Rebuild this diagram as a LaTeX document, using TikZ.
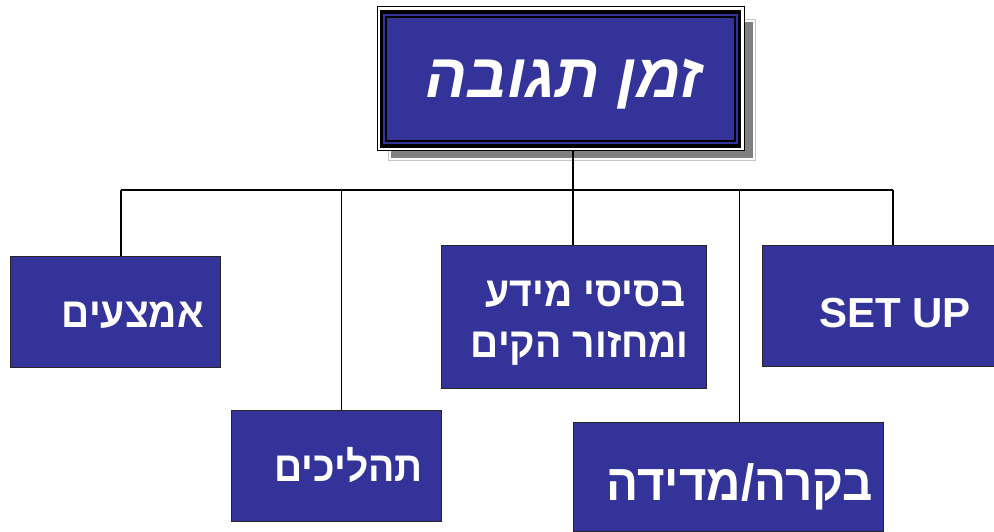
\documentclass[tikz,border=0pt]{standalone}
\usepackage{fontspec}
\setmainfont{Liberation Sans}
\newfontfamily\heb[Script=Hebrew]{Liberation Sans}
\newfontfamily\hebnarrow[Script=Hebrew,FakeStretch=0.93]{Liberation Sans}
\TeXXeTstate=1
\definecolor{boxblue}{HTML}{333399}
\definecolor{shadowgray}{HTML}{808080}

\begin{document}
\begin{tikzpicture}[x=1pt,y=-1pt,
  box/.style={draw=black!85, line width=1pt, fill=boxblue, inner sep=0pt, outer sep=0pt},
  lbl/.style={text=white, font=\hebnarrow\bfseries\fontsize{42}{48}\selectfont, anchor=base east, inner sep=0pt},
  link/.style={draw=black, line width=1.2pt}]
\useasboundingbox (0,0) rectangle (994,532);

% drop shadow behind the title frame
\draw[gray!45, line width=1pt, fill=white] (388,20) rectangle (755,161);
\fill[shadowgray] (390.5,22.5) rectangle (752.5,158.5);

% title frame: thin / thick / thin border
\node[draw=black, line width=1pt, fill=white, minimum width=367pt, minimum height=144pt,
      inner sep=0pt, outer sep=0pt] (title) at (560.5,79) {};
\draw[line width=3.5pt] (381.5,12) rectangle (739.5,146);
\fill[boxblue] (383.25,13.75) rectangle (737.75,144.25);
\draw[line width=1.2pt] (386,17) rectangle (735,141);
\node[text=white, font=\heb\bfseries\itshape\fontsize{62}{68}\selectfont, anchor=base, inner sep=0pt]
  (titletext) at (564,98) {\beginR זמן תגובה\endR};

% branch boxes
\node[box, minimum width=210pt, minimum height=111pt] (amts) at (115,311.5) {};
\node[box, minimum width=210pt, minimum height=111pt] (proc) at (336,465.5) {};
\node[box, minimum width=265pt, minimum height=143pt] (data) at (573.5,316.5) {};
\node[box, minimum width=310pt, minimum height=109pt] (ctrl) at (728,476.5) {};
\node[box, minimum width=262pt, minimum height=121pt] (setup) at (893,305.5) {};

% box labels
\node[lbl] (amtstext) at (204,327) {\beginR אמצעים\endR};
\node[lbl] (proctext) at (423,481) {\beginR תהליכים\endR};
\node[lbl] (datatexta) at (686,306) {\beginR בסיסי מידע\endR};
\node[lbl] (datatextb) at (689,357) {\beginR ומחזור הקים\endR};
\node[lbl, font=\hebnarrow\bfseries\fontsize{51}{56}\selectfont] (ctrltext) at (873,500) {\beginR בקרה/מדידה\endR};
\node[lbl, font=\bfseries\fontsize{42}{48}\selectfont] (setuptext) at (971,327) {SET UP};

% connector tree
\coordinate (j1) at (121,190);
\coordinate (j2) at (341.5,190);
\coordinate (j3) at (573,190);
\coordinate (j4) at (739.5,190);
\coordinate (j5) at (893,190);
\draw[link] (j3 |- title.south) -- (j3);
\draw[link] (j1) -- (j5);
\draw[link] (j1) -- (j1 |- amts.north);
\draw[link] (j2) -- (j2 |- proc.north);
\draw[link] (j3) -- (j3 |- data.north);
\draw[link] (j4) -- (j4 |- ctrl.north);
\draw[link] (j5) -- (setup.north);
\end{tikzpicture}
\end{document}
